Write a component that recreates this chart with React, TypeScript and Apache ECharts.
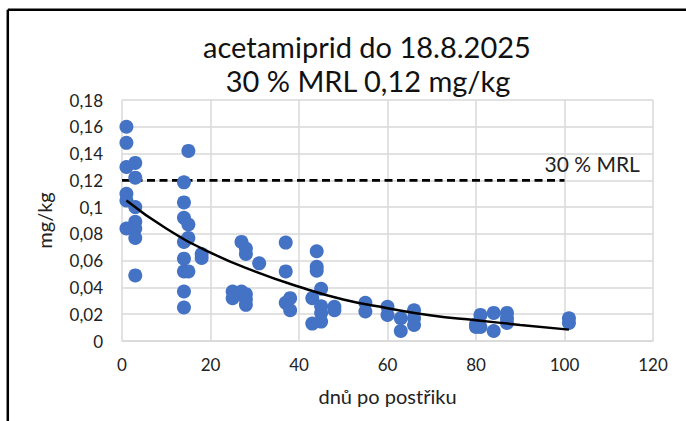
import React, { useEffect, useRef } from "react";
import * as echarts from "echarts";

const titleLines = ["acetamiprid do 18.8.2025", "30 % MRL 0,12 mg/kg"];
const xAxisTitle = "dnů po postřiku";
const yAxisTitle = "mg/kg";
const mrlLabel = "30 % MRL";

// [days after spraying, mg/kg]
const residues: [number, number][] = [
  [1, 0.16], [1, 0.148], [1, 0.13], [1, 0.11], [1, 0.105], [1, 0.084],
  [3, 0.133], [3, 0.122], [3, 0.1], [3, 0.089], [3, 0.084], [3, 0.077], [3, 0.049],
  [14, 0.1185], [14, 0.1035], [14, 0.092], [14, 0.074], [14, 0.0615], [14, 0.052], [14, 0.037], [14, 0.025],
  [15, 0.142], [15, 0.087], [15, 0.077], [15, 0.052],
  [18, 0.065], [18, 0.062],
  [25, 0.037], [25, 0.032],
  [27, 0.074], [27, 0.037],
  [28, 0.069], [28, 0.065], [28, 0.035], [28, 0.031], [28, 0.027],
  [31, 0.058],
  [37, 0.0735], [37, 0.052], [37, 0.0285],
  [38, 0.032], [38, 0.023],
  [43, 0.032], [43, 0.013],
  [44, 0.067], [44, 0.0555], [44, 0.0525],
  [45, 0.039], [45, 0.026], [45, 0.021], [45, 0.0145],
  [48, 0.0255], [48, 0.023],
  [55, 0.0285], [55, 0.022],
  [60, 0.0255], [60, 0.0195],
  [63, 0.017], [63, 0.0075],
  [66, 0.023], [66, 0.017], [66, 0.012],
  [80, 0.0105], [80, 0.0125],
  [81, 0.0195], [81, 0.0105],
  [84, 0.021], [84, 0.0075],
  [87, 0.021], [87, 0.017], [87, 0.0135],
  [101, 0.017], [101, 0.0135],
];

// exponential trend line
const trendDays = [1, 10, 20, 30, 40, 50, 60, 70, 80, 90, 101];
const trendValues = [0.105, 0.084, 0.066, 0.052, 0.0405, 0.031, 0.0245, 0.019, 0.0155, 0.012, 0.0085];

// 30 % MRL level
const mrlDays = [0, 100];
const mrlValue = 0.12;

const xTicks = { min: 0, max: 120, interval: 20 };
const yTicks = { min: 0, max: 0.18, interval: 0.02 };

const FONT = "Lato";

export default function App() {
  const ref = useRef<HTMLDivElement>(null);
  useEffect(() => {
    if (!ref.current) return;
    const chart = echarts.init(ref.current, undefined, { renderer: "svg" });
    const grid = "#d9d9d9";
    chart.setOption({
      animation: false,
      backgroundColor: "#ffffff",
      textStyle: { fontFamily: FONT },
      grid: { left: 122, right: 33, top: 100, bottom: 80 },
      graphic: [
        { type: "line", shape: { x1: 7.8, y1: 9.7, x2: 700, y2: 9.7 }, style: { stroke: "#000", lineWidth: 2.5 } },
        { type: "line", shape: { x1: 7.8, y1: 9.7, x2: 7.8, y2: 430 }, style: { stroke: "#000", lineWidth: 2.5 } },
        {
          type: "text", x: 367, y: 46,
          style: { text: titleLines[0], font: `29px ${FONT}`, fill: "#111", align: "center", verticalAlign: "middle" },
        },
        {
          type: "text", x: 368, y: 80,
          style: { text: titleLines[1], font: `29px ${FONT}`, fill: "#111", align: "center", verticalAlign: "middle" },
        },
      ],
      xAxis: {
        type: "value",
        min: xTicks.min, max: xTicks.max, interval: xTicks.interval,
        name: xAxisTitle, nameLocation: "middle", nameGap: 45,
        nameTextStyle: { fontSize: 20, color: "#222", fontFamily: FONT },
        axisLine: { show: true, lineStyle: { color: grid, width: 1.5 } },
        axisTick: { show: false },
        axisLabel: { margin: 15, fontSize: 17, color: "#222", fontFamily: FONT },
        splitLine: { show: true, lineStyle: { color: grid, width: 1.5 } },
      },
      yAxis: {
        type: "value",
        min: yTicks.min, max: yTicks.max, interval: yTicks.interval,
        name: yAxisTitle, nameLocation: "middle", nameGap: 68, nameRotate: 90,
        nameTextStyle: { fontSize: 20, color: "#222", fontFamily: FONT },
        axisLine: { show: false },
        axisTick: { show: false },
        axisLabel: {
          margin: 19, fontSize: 17, color: "#222", fontFamily: FONT,
          formatter: (v: number) => String(+v.toFixed(2)).replace(".", ","),
        },
        splitLine: { show: true, lineStyle: { color: grid, width: 1.5 } },
      },
      series: [
        {
          type: "line",
          data: mrlDays.map((d) => [d, mrlValue]),
          symbol: "none",
          lineStyle: { color: "#000", width: 2.8, type: [8, 4.5] },
          endLabel: {
            show: true, formatter: mrlLabel, distance: 0, offset: [-20, -17],
            fontSize: 21, color: "#222", fontFamily: FONT,
          },
          z: 3,
        },
        {
          type: "scatter",
          data: residues,
          symbol: "circle",
          symbolSize: 14,
          itemStyle: { color: "#4472C4", opacity: 1 },
          z: 4,
        },
        {
          type: "line",
          data: trendDays.map((d, i) => [d, trendValues[i]]),
          symbol: "none",
          smooth: true,
          lineStyle: { color: "#000", width: 2.5 },
          z: 5,
        },
      ],
    });
    return () => chart.dispose();
  }, []);
  return (
    <div
      ref={ref}
      style={{ position: "fixed", left: 0, top: 0, width: 686, height: 421, background: "#fff" }}
    />
  );
}
